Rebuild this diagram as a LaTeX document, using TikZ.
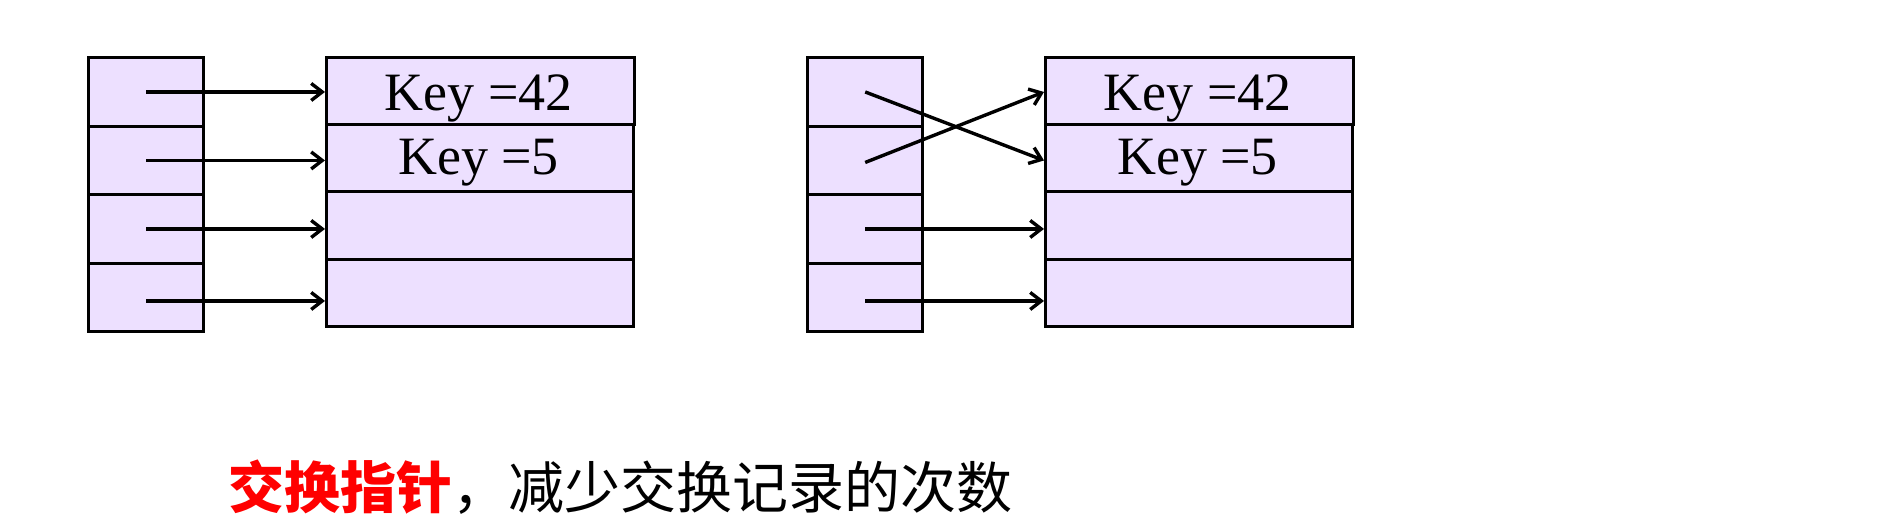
\documentclass[tikz,border=0pt]{standalone}
\usepackage{fontspec}
\setmainfont{Liberation Serif}
\newfontfamily\cjk{Noto Sans CJK SC}
\usetikzlibrary{arrows.meta}
\definecolor{cellfill}{RGB}{237,224,255}
\begin{document}
\begin{tikzpicture}[x=1pt,y=-1pt,
  cellbox/.style={draw=black, line width=3.4pt, fill=cellfill, inner sep=0pt, anchor=north west, minimum width=115pt, minimum height=68.5pt},
  recbox/.style={draw=black, line width=3.4pt, fill=cellfill, inner sep=0pt, anchor=north west, minimum width=307pt, minimum height=67.5pt},
  keytext/.style={anchor=base, inner sep=0pt, font=\fontsize{54}{57}\selectfont},
  ptr/.style={line width=3.4pt, -{Straight Barb[length=11pt,width=17pt]}}]
\useasboundingbox (0,0) rectangle (1904,520);
% left group
\foreach \i/\y in {1/56,2/124.5,3/193,4/261.5} {
  \node[cellbox] (a\i) at (87,\y) {};
}
\foreach \i/\y in {4/257.5,3/190,2/122.5} {
  \node[recbox] (r\i) at (325,\y) {};
}
\node[recbox, minimum width=308pt, minimum height=66.5pt] (r1) at (325,56) {};
\node[keytext] (k1) at (478.5,110) {Key =42};
\node[keytext] (k2) at (478.5,174) {Key =5};
\foreach \i in {1,2,3} {
  \draw[ptr] (a\i.center) -- (a\i.center -| r\i.west);
}
\draw[ptr] ([yshift=-3.5pt]a4.center) -- ([yshift=-3.5pt]a4.center -| r4.west);
% right group
\foreach \i/\y in {1/56,2/124.5,3/193,4/261.5} {
  \node[cellbox] (b\i) at (806,\y) {};
}
\foreach \i/\y in {4/257.5,3/190,2/122.5} {
  \node[recbox] (s\i) at (1044,\y) {};
}
\node[recbox, minimum width=308pt, minimum height=66.5pt] (s1) at (1044,56) {};
\node[keytext] (m1) at (1197.5,110) {Key =42};
\node[keytext] (m2) at (1197.5,174) {Key =5};
\draw[ptr] (b1.center) -- (b2.center -| s2.west);
\draw[ptr] ([yshift=-2pt]b2.center) -- (b1.center -| s1.west);
\draw[ptr] (b3.center) -- (b3.center -| s3.west);
\draw[ptr] ([yshift=-3.5pt]b4.center) -- ([yshift=-3.5pt]b4.center -| s4.west);
% caption
\node[anchor=base west, inner sep=0pt, font=\cjk\fontsize{56}{60}\selectfont] (cap) at (228,508)
  {{\bfseries\color{red}交换指针}，减少交换记录的次数};
\end{tikzpicture}
\end{document}
